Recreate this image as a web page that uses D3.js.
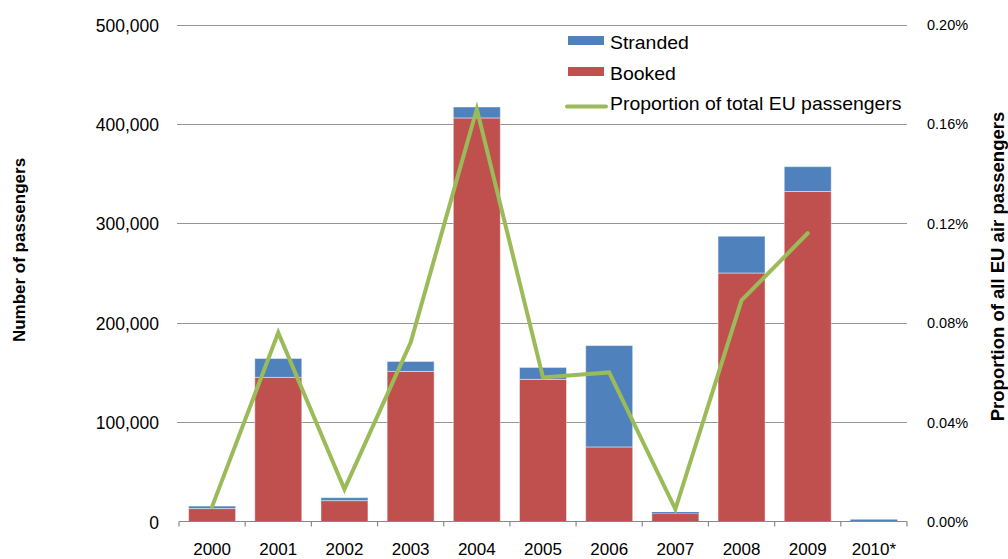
<!DOCTYPE html>
<html>
<head>
<meta charset="utf-8">
<script src="https://cdnjs.cloudflare.com/ajax/libs/d3/7.8.5/d3.min.js"></script>
<style>
  html, body { margin: 0; padding: 0; background: #fff; }
  svg { display: block; font-family: "Liberation Sans", Arial, sans-serif; }
</style>
</head>
<body>
<svg id="chart" width="1008" height="559"></svg>
<script>
// Passengers affected by airline bankruptcies, 2000–2010
const years = ["2000","2001","2002","2003","2004","2005","2006","2007","2008","2009","2010*"];
const booked   = [13000, 145000, 21000, 151000, 406000, 143000, 75000, 8000, 250000, 332000, 0];
const stranded = [2500, 19000, 3000, 10000, 11000, 12000, 102000, 1500, 37000, 25000, 2000];
// Share of all EU air passengers (percent); no figure for 2010
const proportion = [0.006, 0.076, 0.013, 0.072, 0.166, 0.058, 0.060, 0.005, 0.089, 0.116, null];

const leftTicks  = [0, 100000, 200000, 300000, 400000, 500000];
const rightTicks = [0, 0.04, 0.08, 0.12, 0.16, 0.20];

const colors = { stranded: "#4F81BD", booked: "#C0504D", line: "#9BBB59" };

const svg = d3.select("#chart");
const plot = { left: 179, right: 907, top: 24.5, bottom: 521.5 };

const x = d3.scaleBand().domain(years)
  .range([plot.left, plot.right])
  .paddingInner(0.29).paddingOuter(0.145);
const y = d3.scaleLinear().domain([0, 500000]).range([plot.bottom, plot.top]);
const y2 = d3.scaleLinear().domain([0, 0.20]).range([plot.bottom, plot.top]);

// Horizontal gridlines
svg.append("g").selectAll("line").data(leftTicks.slice(1)).join("line")
  .attr("x1", plot.left - 2).attr("x2", plot.right)
  .attr("y1", d => Math.round(y(d)) + 0.5).attr("y2", d => Math.round(y(d)) + 0.5)
  .attr("stroke", "#959595").attr("stroke-width", 1.2);

// Stacked bars: booked at the base, stranded on top
const stackData = years.map((yr, i) => ({ year: yr, booked: booked[i], stranded: stranded[i] }));
const series = d3.stack().keys(["booked", "stranded"])(stackData);

svg.append("g").selectAll("g").data(series).join("g")
  .attr("fill", d => colors[d.key])
  .selectAll("rect").data(d => d).join("rect")
  .attr("x", d => x(d.data.year))
  .attr("width", x.bandwidth())
  .attr("y", d => y(d[1]))
  .attr("height", d => Math.max(0, y(d[0]) - y(d[1])))
  .attr("stroke", "rgba(255,255,255,0.45)")
  .attr("stroke-width", d => (y(d[0]) - y(d[1]) > 2 ? 1 : 0));

// X axis baseline with ticks at category boundaries
const xAxisG = svg.append("g");
xAxisG.append("line")
  .attr("x1", plot.left).attr("x2", plot.right)
  .attr("y1", plot.bottom).attr("y2", plot.bottom)
  .attr("stroke", "#888").attr("stroke-width", 1.2);
const boundaries = d3.range(years.length + 1).map(i => plot.left + i * (plot.right - plot.left) / years.length);
xAxisG.selectAll("line.tick").data(boundaries).join("line")
  .attr("class", "tick")
  .attr("x1", d => d).attr("x2", d => d)
  .attr("y1", plot.bottom).attr("y2", plot.bottom + 5)
  .attr("stroke", "#888").attr("stroke-width", 1.2);
xAxisG.selectAll("text").data(years).join("text")
  .attr("x", d => x(d) + x.bandwidth() / 2)
  .attr("y", 555)
  .attr("text-anchor", "middle")
  .attr("font-size", 17)
  .attr("fill", "#000")
  .text(d => d);

// Left axis labels
const fmt = d3.format(",");
svg.append("g").selectAll("text").data(leftTicks).join("text")
  .attr("x", 159)
  .attr("y", d => y(d) + 7)
  .attr("text-anchor", "end")
  .attr("font-size", 17.5)
  .attr("fill", "#000")
  .text(d => fmt(d));

// Right axis labels
svg.append("g").selectAll("text").data(rightTicks).join("text")
  .attr("x", 927)
  .attr("y", d => y2(d) + 5.5)
  .attr("text-anchor", "start")
  .attr("font-size", 14.5)
  .attr("fill", "#000")
  .text(d => d.toFixed(2) + "%");

// Proportion line on the secondary axis
const lineGen = d3.line()
  .defined(d => d.v !== null)
  .x(d => x(d.year) + x.bandwidth() / 2)
  .y(d => y2(d.v));
svg.append("path")
  .datum(years.map((yr, i) => ({ year: yr, v: proportion[i] })))
  .attr("d", lineGen)
  .attr("fill", "none")
  .attr("stroke", colors.line)
  .attr("stroke-width", 4)
  .attr("stroke-linejoin", "miter")
  .attr("stroke-linecap", "round");

// Axis titles
svg.append("text")
  .attr("transform", "translate(24.5,250) rotate(-90)")
  .attr("text-anchor", "middle")
  .attr("font-size", 17)
  .attr("font-weight", "bold")
  .attr("fill", "#000")
  .text("Number of passengers");
svg.append("text")
  .attr("transform", "translate(1003.5,266.5) rotate(-90)")
  .attr("text-anchor", "middle")
  .attr("font-size", 18.5)
  .attr("font-weight", "bold")
  .attr("fill", "#000")
  .text("Proportion of all EU air passengers");

// Legend
const legend = svg.append("g");
const legendItems = [
  { label: "Stranded", type: "rect", color: colors.stranded, cy: 43 },
  { label: "Booked", type: "rect", color: colors.booked, cy: 74 },
  { label: "Proportion of total EU passengers", type: "line", color: colors.line, cy: 104 }
];
legendItems.forEach(item => {
  if (item.type === "rect") {
    legend.append("rect")
      .attr("x", 568).attr("y", item.cy - 7)
      .attr("width", 36).attr("height", 9)
      .attr("fill", item.color);
  } else {
    legend.append("line")
      .attr("x1", 567).attr("x2", 606)
      .attr("y1", item.cy + 2.5).attr("y2", item.cy + 2.5)
      .attr("stroke", item.color).attr("stroke-width", 4)
      .attr("stroke-linecap", "round");
  }
  legend.append("text")
    .attr("transform", `translate(610,${item.cy + 6.3}) scale(1.08,1)`)
    .attr("font-size", 18)
    .attr("fill", "#000")
    .text(item.label);
});
</script>
</body>
</html>
